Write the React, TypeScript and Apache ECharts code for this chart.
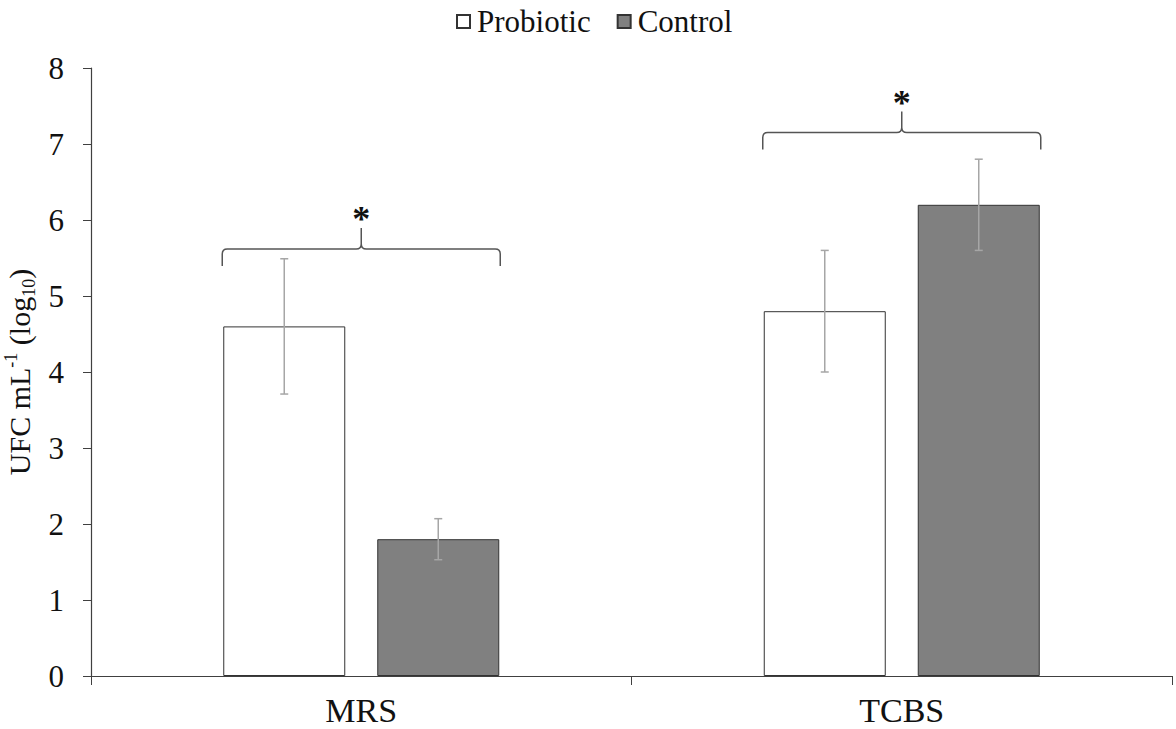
import React, { useEffect, useRef } from "react";
import * as echarts from "echarts";

const categories = ["MRS", "TCBS"];
const probioticMeans = [4.6, 4.8];
const probioticErrors = [0.89, 0.8];
const controlMeans = [1.8, 6.2];
const controlErrors = [0.27, 0.6];
const braceLevels = [5.62, 7.15];
const yTicks = { min: 0, max: 8, interval: 1 };

const FONT = '"Liberation Serif", "Times New Roman", serif';
const BAR_W = 122;
const BAR_GAP = 32;
const OFFSET = (BAR_W + BAR_GAP) / 2;

function errorRender(offset: number) {
  return (params: any, api: any) => {
    const idx = api.value(0);
    const mean = api.value(1);
    const err = api.value(2);
    const hi = api.coord([idx, mean + err]);
    const lo = api.coord([idx, mean - err]);
    const x = hi[0] + offset;
    const style = { stroke: "#a6a6a6", lineWidth: 1.5 };
    return {
      type: "group",
      children: [
        { type: "line", shape: { x1: x, y1: hi[1], x2: x, y2: lo[1] }, style },
        { type: "line", shape: { x1: x - 4, y1: hi[1], x2: x + 4, y2: hi[1] }, style },
        { type: "line", shape: { x1: x - 4, y1: lo[1], x2: x + 4, y2: lo[1] }, style },
      ],
    };
  };
}

function braceRender(params: any, api: any) {
  const idx = api.value(0);
  const lvl = api.value(1);
  const p = api.coord([idx, lvl]);
  const cx = p[0];
  const y = p[1];
  const hw = BAR_W + BAR_GAP / 2 + 1;
  const x0 = cx - hw;
  const x1 = cx + hw;
  const r = 5;
  const d = [
    `M ${x0} ${y + 17}`,
    `L ${x0} ${y + r}`,
    `Q ${x0} ${y} ${x0 + r} ${y}`,
    `L ${cx - r} ${y}`,
    `Q ${cx} ${y} ${cx} ${y - r}`,
    `L ${cx} ${y - 21}`,
    `M ${cx} ${y - r}`,
    `Q ${cx} ${y} ${cx + r} ${y}`,
    `L ${x1 - r} ${y}`,
    `Q ${x1} ${y} ${x1} ${y + r}`,
    `L ${x1} ${y + 17}`,
  ].join(" ");
  return {
    type: "group",
    children: [
      {
        type: "path",
        shape: { pathData: d },
        style: { stroke: "#555555", lineWidth: 1.5, fill: "none" },
      },
      {
        type: "text",
        x: cx,
        y: y - 30,
        style: {
          text: "*",
          fill: "#111111",
          font: `bold 36px ${FONT}`,
          align: "center",
          verticalAlign: "middle",
        },
      },
    ],
  };
}

export default function App() {
  const ref = useRef<HTMLDivElement>(null);
  useEffect(() => {
    if (!ref.current) return;
    const chart = echarts.init(ref.current, undefined, { renderer: "svg" });
    chart.setOption({
      animation: false,
      backgroundColor: "#ffffff",
      textStyle: { fontFamily: FONT },
      legend: {
        top: 1,
        left: 451,
        itemWidth: 13,
        itemHeight: 13,
        itemGap: 26,
        icon: "rect",
        textStyle: { fontFamily: FONT, fontSize: 31, color: "#111111", padding: [0, 0, 0, 2] },
        data: ["Probiotic", "Control"],
      },
      grid: { left: 91, right: 4, top: 68, bottom: 53, containLabel: false, outerBoundsMode: "none" },
      xAxis: {
        type: "category",
        data: categories,
        axisLine: { lineStyle: { color: "#404040", width: 1.2 } },
        axisTick: { show: true, length: 9, lineStyle: { color: "#404040" } },
        axisLabel: { fontFamily: FONT, fontSize: 34, color: "#111111", margin: 17 },
      },
      yAxis: {
        type: "value",
        min: yTicks.min,
        max: yTicks.max,
        interval: yTicks.interval,
        splitLine: { show: false },
        axisLine: { show: true, lineStyle: { color: "#404040", width: 1.2 } },
        axisTick: { show: true, length: 8, lineStyle: { color: "#404040" } },
        axisLabel: { fontFamily: FONT, fontSize: 31, color: "#111111", margin: 27 },
        name: "{n|UFC mL}{sup|-1}{n| (log}{sub|10}{n|)}",
        nameLocation: "middle",
        nameRotate: 90,
        nameGap: 48,
        nameTextStyle: {
          fontFamily: FONT,
          rich: {
            n: { fontFamily: FONT, fontSize: 30, color: "#111111", lineHeight: 36 },
            sup: { fontFamily: FONT, fontSize: 18, color: "#111111", verticalAlign: "top", lineHeight: 36, padding: [0, 0, 14, 0] },
            sub: { fontFamily: FONT, fontSize: 18, color: "#111111", verticalAlign: "bottom", lineHeight: 36, padding: [10, 0, 0, 0] },
          },
        },
      },
      series: [
        {
          name: "Probiotic",
          type: "bar",
          data: probioticMeans,
          barWidth: BAR_W,
          barGap: `${(BAR_GAP / BAR_W) * 100}%`,
          itemStyle: { color: "#ffffff", borderColor: "#333333", borderWidth: 1 },
        },
        {
          name: "Control",
          type: "bar",
          data: controlMeans,
          barWidth: BAR_W,
          barGap: `${(BAR_GAP / BAR_W) * 100}%`,
          itemStyle: { color: "#808080", borderColor: "#333333", borderWidth: 1 },
        },
        {
          type: "custom",
          renderItem: errorRender(-OFFSET),
          data: categories.map((_, i) => [i, probioticMeans[i], probioticErrors[i]]),
          z: 10,
          silent: true,
        },
        {
          type: "custom",
          renderItem: errorRender(OFFSET),
          data: categories.map((_, i) => [i, controlMeans[i], controlErrors[i]]),
          z: 10,
          silent: true,
        },
        {
          type: "custom",
          renderItem: braceRender,
          data: categories.map((_, i) => [i, braceLevels[i]]),
          z: 10,
          silent: true,
        },
      ],
    });
    return () => chart.dispose();
  }, []);
  return (
    <div
      ref={ref}
      style={{ position: "absolute", left: 0, top: 0, width: 1176, height: 729 }}
    />
  );
}
